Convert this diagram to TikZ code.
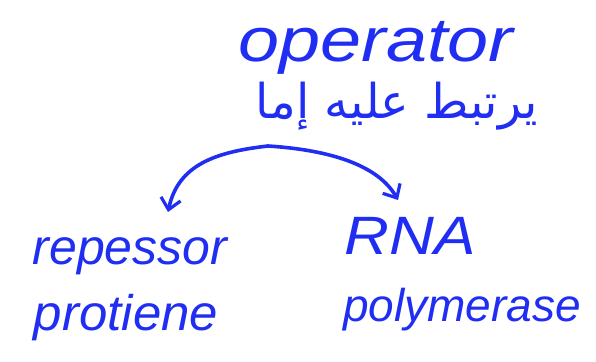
\documentclass[tikz,border=0pt]{standalone}
\usepackage{fontspec}
\setmainfont{Liberation Sans}
\newfontfamily\arabicfont[Script=Arabic]{DejaVu Sans}
\TeXXeTstate=1
\usetikzlibrary{arrows.meta}
\definecolor{ink}{HTML}{1F2EF2}
\begin{document}
\begin{tikzpicture}[x=1pt,y=-1pt,
  lbl/.style={text=ink, inner sep=0pt, font=\itshape\fontsize{50}{54}\selectfont},
  arlbl/.style={text=ink, inner sep=0pt, font=\arabicfont\fontsize{48}{52}\selectfont},
  conn/.style={draw=ink, line width=3.6pt, line cap=round, -{Straight Barb[length=11pt,width=20pt,line width=3.2pt]}}]
\useasboundingbox (0,0) rectangle (596,361);
\node[lbl, font=\itshape\fontsize{62}{66}\selectfont, xscale=1.19] (op) at (376,48) {operator};
\node[arlbl] (ar) at (397,106) {\beginR يرتبط عليه إما\endR};
\coordinate (top) at (268,146);
\node[lbl, font=\itshape\fontsize{50}{54}\selectfont] (rep) at (130,256) {repessor};
\node[lbl, font=\itshape\fontsize{50}{54}\selectfont, xscale=1.02] (prot) at (126,318) {protiene};
\node[lbl, font=\itshape\fontsize{54}{58}\selectfont, xscale=1.15] (rna) at (410,236) {RNA};
\node[lbl, font=\itshape\fontsize{46}{50}\selectfont] (poly) at (462,310) {polymerase};
\draw[conn] (top) .. controls (215,152) and (178,165) .. (168,212);
\draw[conn] (top) .. controls (330,150) and (378,165) .. (398,200);
\end{tikzpicture}
\end{document}
